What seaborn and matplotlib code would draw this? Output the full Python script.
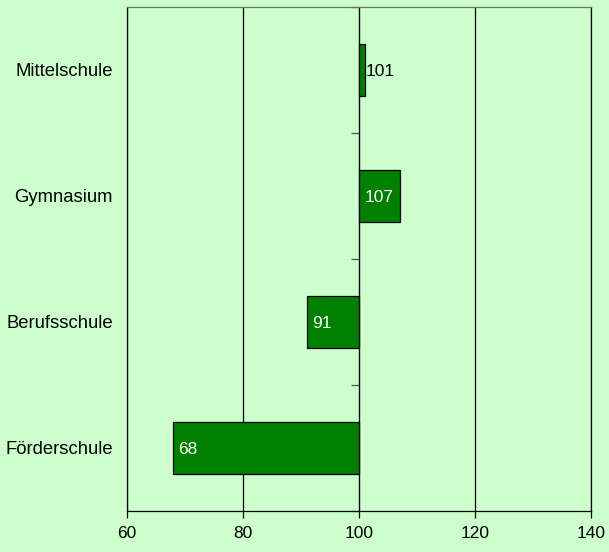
import matplotlib
matplotlib.use("Agg")
import matplotlib.pyplot as plt
import seaborn as sns
import pandas as pd

# Index values per school type (base = 100)
schools = ["Mittelschule", "Gymnasium", "Berufsschule", "Förderschule"]
index_values = [101, 107, 91, 68]
x_ticks = [60, 80, 100, 120, 140]
base = 100

df = pd.DataFrame({"Schulart": schools, "Index": index_values})
df["Abweichung"] = df["Index"] - base

sns.set_style("white")
plt.rcParams["font.family"] = ["Liberation Sans", "DejaVu Sans"]
plt.rcParams["font.size"] = 12.5
plt.rcParams["text.color"] = "black"
plt.rcParams["xtick.color"] = "black"
plt.rcParams["ytick.color"] = "black"

bg = "#CCFFCC"
fig = plt.figure(figsize=(6.09, 5.52), dpi=100, facecolor=bg)
ax = fig.add_axes([127 / 609, 41 / 552, 464 / 609, 504 / 552])
ax.set_facecolor(bg)

ax.grid(axis="x", color="black", linewidth=0.9)
ax.set_axisbelow(True)

sns.barplot(data=df, y="Schulart", x="Abweichung", order=schools,
            color="#008000", saturation=1, width=0.41, left=base,
            edgecolor="black", linewidth=0.9, ax=ax, zorder=3)

ax.set_xlim(x_ticks[0], x_ticks[-1])
ax.set_ylim(len(schools) - 0.5, -0.5)
ax.set_xticks(x_ticks)
ax.set_xticklabels([str(t) for t in x_ticks])
ax.set_xlabel("")
ax.set_ylabel("")

ax.tick_params(axis="x", bottom=True, direction="out", length=5, width=0.9,
               color="black", labelcolor="black", pad=6, labelsize=12.5)
ax.tick_params(axis="y", left=False, length=0, pad=10,
               labelcolor="black", labelsize=13.3)

for side in ["left", "bottom", "right"]:
    ax.spines[side].set_color("black")
    ax.spines[side].set_linewidth(0.9)
ax.spines["top"].set_color("#707070")
ax.spines["top"].set_linewidth(0.9)

# Category axis crossing at the base value
frac = (base - x_ticks[0]) / (x_ticks[-1] - x_ticks[0])
sec = ax.secondary_yaxis(frac)
sec.set_alignment("left")
bounds = [i - 0.5 for i in range(len(schools) + 1)]
sec.set_yticks(bounds)
sec.set_yticklabels([])
sec.tick_params(axis="y", left=True, right=False, direction="out",
                length=6, width=0.9, color="#505050")
sec.spines["left"].set_color("#707070")
sec.spines["left"].set_linewidth(0.9)

# Value labels
for i, (name, val) in enumerate(zip(schools, index_values)):
    if val >= base + 3:
        ax.text(val - 1.0, i, str(val), ha="right", va="center_baseline",
                color="white", fontsize=12.5, zorder=5)
    elif val < base:
        ax.text(val + 0.9, i, str(val), ha="left", va="center_baseline",
                color="white", fontsize=12.5, zorder=5)
    else:
        ax.text(val + 0.1, i, str(val), ha="left", va="center_baseline",
                color="black", fontsize=12.5, zorder=5)

fig.savefig("out.png", dpi=100, facecolor=bg)
